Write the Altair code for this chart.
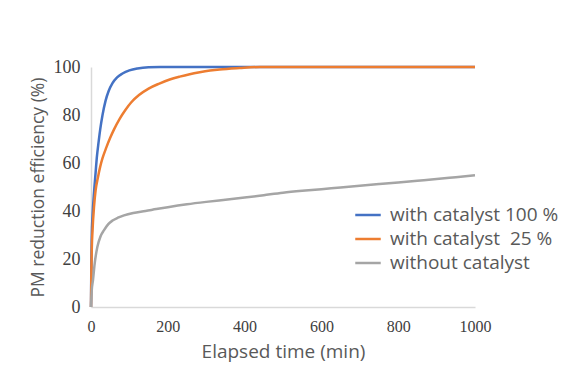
import altair as alt
import pandas as pd

series_names = ["with catalyst 100 %", "with catalyst\u00a0\u00a025 %", "without catalyst"]
series_colors = ["#4472C4", "#ED7D31", "#A5A5A5"]

t_blue = [0, 1, 2, 4, 8, 12, 15, 20, 24, 30, 38, 46, 56, 68, 82, 100, 121, 150, 180, 250, 300, 400, 500, 600, 700, 800, 900, 1000]
v_blue = [0, 20, 30, 38, 48, 56, 62, 69, 74, 80, 86, 90, 93.3, 95.7, 97.3, 98.6, 99.4, 99.9, 100, 100, 100, 100, 100, 100, 100, 100, 100, 100]

t_orange = [0, 1, 2, 4, 8, 12, 18, 24, 30, 40, 50, 60, 75, 90, 105, 125, 150, 178, 205, 231, 257, 283, 310, 335, 387, 440, 500, 600, 700, 800, 900, 1000]
v_orange = [0, 15, 24, 32, 42, 48.6, 54, 58.5, 62, 66.5, 70.5, 74, 78.5, 82.2, 85.3, 88.3, 91, 93.1, 94.8, 96, 97, 97.8, 98.5, 99, 99.6, 100, 100, 100, 100, 100, 100, 100]

t_gray = [0, 1, 2, 5, 9.5, 16.5, 25, 34, 45, 56, 70, 86, 110, 142, 170, 200, 250, 300, 350, 400, 450, 500, 550, 600, 650, 700, 750, 800, 850, 900, 950, 1000]
v_gray = [0, 4, 7, 11, 18, 25, 29.5, 32, 34.5, 36, 37.2, 38.2, 39.2, 40, 40.8, 41.6, 42.8, 43.8, 44.7, 45.6, 46.6, 47.6, 48.4, 49.1, 49.8, 50.5, 51.2, 51.9, 52.6, 53.3, 54.1, 54.9]

rows = []
for name, ts, vs in zip(series_names, [t_blue, t_orange, t_gray], [v_blue, v_orange, v_gray]):
    for t, v in zip(ts, vs):
        rows.append({"series": name, "time": t, "eff": v})
df = pd.DataFrame(rows)

chart = alt.Chart(df).mark_line(strokeWidth=2.5, interpolate="monotone").encode(
    x=alt.X("time:Q", title="Elapsed time (min)",
            scale=alt.Scale(domain=[0, 1000], nice=False),
            axis=alt.Axis(values=[0, 200, 400, 600, 800, 1000], format="d", grid=False, ticks=False,
                          labelFlush=False,
                          domainColor="#D9D9D9", domainWidth=1.5,
                          labelFont="Liberation Serif", labelFontSize=16, labelColor="#404040",
                          labelPadding=11,
                          titleFont="Open Sans", titleFontSize=19, titleFontWeight="normal",
                          titleColor="#595959", titlePadding=8)),
    y=alt.Y("eff:Q", title="PM reduction efficiency (%)",
            scale=alt.Scale(domain=[0, 100], nice=False),
            axis=alt.Axis(values=[0, 20, 40, 60, 80, 100], grid=False, ticks=False,
                          labelFlush=False,
                          domainColor="#D9D9D9", domainWidth=1.5,
                          labelFont="Liberation Serif", labelFontSize=18, labelColor="#404040",
                          labelPadding=11,
                          titleFont="Open Sans", titleFontSize=17.5, titleFontWeight="normal",
                          titleColor="#595959", titlePadding=6)),
    color=alt.Color("series:N", sort=series_names,
                    scale=alt.Scale(domain=series_names, range=series_colors),
                    legend=alt.Legend(title=None, orient="none", legendX=263, legendY=134,
                                      symbolType="stroke", symbolSize=650, symbolStrokeWidth=2.5,
                                      labelFont="Open Sans", labelFontSize=19, labelColor="#595959",
                                      labelOffset=8, rowPadding=0, labelLimit=300)),
).properties(
    width=384, height=240,
    autosize=alt.AutoSizeParams(type="none"),
    padding={"left": 83, "top": 59, "right": 100, "bottom": 60},
).configure_view(stroke=None)

chart.save("out.html", embed_options={"renderer": "svg", "actions": False})
